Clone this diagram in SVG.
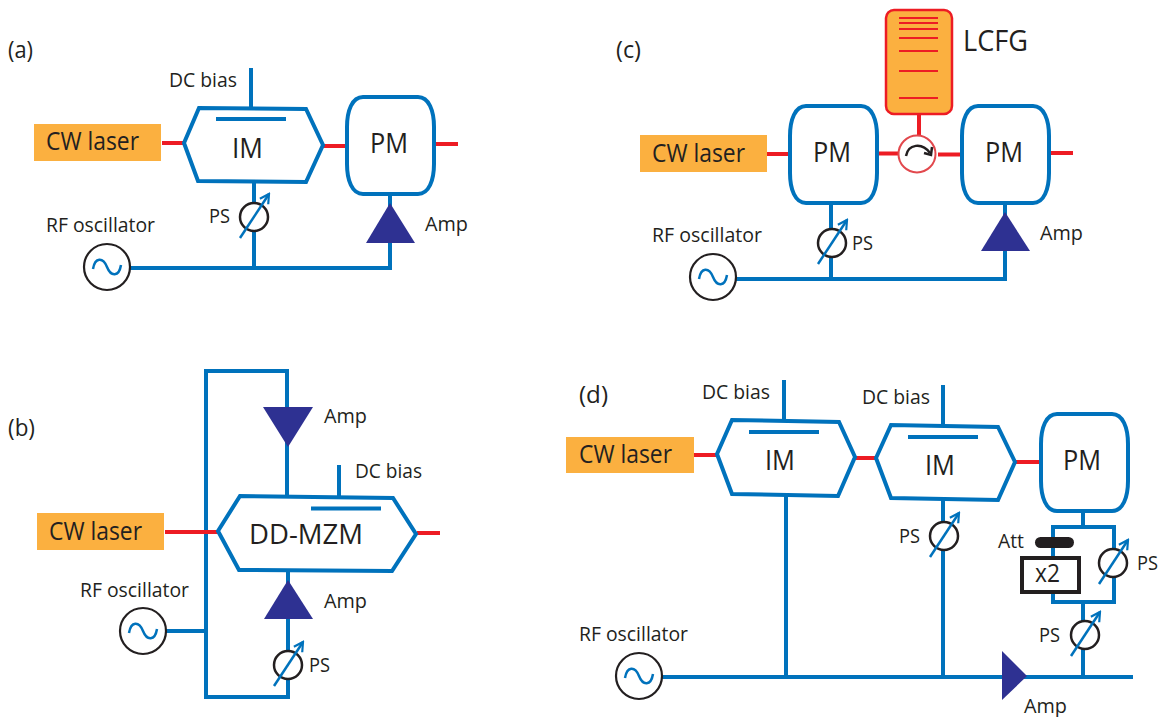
<svg xmlns="http://www.w3.org/2000/svg" xmlns:xlink="http://www.w3.org/1999/xlink" width="1159" height="717" viewBox="0 0 1159 717">
<style>
text{font-family:"Open Sans","Noto Sans","Liberation Sans",sans-serif;fill:#231f20}
.s{font-size:19.500px}.m{font-size:25.500px}.l{font-size:28px}.p{font-size:24px}
.b{fill:none;stroke:#0072bc;stroke-width:4}
.r{fill:none;stroke:#ed1c24;stroke-width:4}
.box{fill:#fff;stroke:#0072bc;stroke-width:4;stroke-linejoin:miter}
.laser{fill:#fbb040}
.amp{fill:#2e3192}
.e{fill:none;stroke:#0072bc;stroke-width:4}
.pa{fill:none;stroke:#0072bc;stroke-width:2.5;marker-end:url(#ah)}
.c{fill:#fff;stroke:#231f20;stroke-width:2.5}
.o{fill:#fff;stroke:#231f20;stroke-width:2.2}
.w{fill:none;stroke:#0072bc;stroke-width:2.5}
.g{fill:none;stroke:#ed1c24;stroke-width:2}
</style>
<defs>
<marker id="ah" markerUnits="userSpaceOnUse" markerWidth="14" markerHeight="14" refX="12" refY="7" orient="auto"><path d="M3,2 L12,7 L3,12" fill="none" stroke="#0072bc" stroke-width="2.2"/></marker>
<g id="osc"><circle r="23" class="o"/><path class="w" d="M-14,2 C-12,-10 -4,-10 0,0 C4,10 12,10 14,-2"/></g>
<g id="ps"><circle r="14" class="c"/><path class="pa" d="M-14,21 L15,-23"/></g>
<path id="pm" class="box" d="M16,0 H71 C82,0 87,14 87,30 V67 C87,83 82,97 71,97 H16 C5,97 0,83 0,67 V30 C0,14 5,0 16,0 Z"/>
</defs>

<g id="connectors">
<path class="r" d="M162,143H184M323,146H346M435,144H458"/>
<path class="b" d="M251,68V108M254,182V268M390,194V268M130,268H392"/>
<path class="r" d="M767,154H790M876,153.500H898M938,154.500H961M1049,153H1073"/>
<path class="r" d="M919,114V135"/>
<path class="b" d="M831,202V280M1005,202V279M736,279H1007"/>
<path class="b" d="M287,497V371H206V697H288V572M339,465V497M166,631H206"/>
<path class="r" d="M165,532H218M417,533H440"/>
<path class="r" d="M694,455H716M855,458H876M1015,462H1039"/>
<path class="b" d="M784,380V420M943,385V425M786,496V677M943,500V677M1083,510V527M1083,602V677M662,677H1133"/>
<path class="b" d="M1053,527H1114V602H1053Z"/>
</g>

<g id="label-a"><text class="p" x="8" y="58" textLength="25" lengthAdjust="spacingAndGlyphs">(a)</text></g>
<g id="label-b"><text class="p" x="8" y="436" textLength="27" lengthAdjust="spacingAndGlyphs">(b)</text></g>
<g id="label-c"><text class="p" x="616" y="58" textLength="25" lengthAdjust="spacingAndGlyphs">(c)</text></g>
<g id="label-d"><text class="p" x="579" y="403" textLength="29" lengthAdjust="spacingAndGlyphs">(d)</text></g>

<g id="a-laser"><rect class="laser" x="34" y="124" width="127" height="37"/><text class="m" x="46" y="150" textLength="93" lengthAdjust="spacingAndGlyphs">CW laser</text></g>
<g id="a-im"><path class="box" d="M184,143L199,108L306,109L323,145L306,182L198,181Z"/><path class="e" d="M216,119H286"/><text class="l" x="232" y="158" textLength="31" lengthAdjust="spacingAndGlyphs">IM</text></g>
<g id="a-dc"><text class="s" x="169" y="87" textLength="68" lengthAdjust="spacingAndGlyphs">DC bias</text></g>
<g id="a-pm"><use href="#pm" x="347" y="97"/><text class="l" x="370" y="153" textLength="38" lengthAdjust="spacingAndGlyphs">PM</text></g>
<g id="a-ps"><use href="#ps" x="254" y="217"/><text class="s" x="209" y="223" textLength="21" lengthAdjust="spacingAndGlyphs">PS</text></g>
<g id="a-amp"><path class="amp" d="M390,203L415,243H366Z"/><text class="s" x="425" y="231" textLength="43" lengthAdjust="spacingAndGlyphs">Amp</text></g>
<g id="a-osc"><use href="#osc" x="107" y="267"/><text class="s" x="46" y="232" textLength="109" lengthAdjust="spacingAndGlyphs">RF oscillator</text></g>

<g id="c-laser"><rect class="laser" x="640" y="135" width="127" height="37"/><text class="m" x="652" y="162" textLength="93" lengthAdjust="spacingAndGlyphs">CW laser</text></g>
<g id="c-pm1"><use href="#pm" x="790" y="106"/><text class="l" x="813" y="162" textLength="38" lengthAdjust="spacingAndGlyphs">PM</text></g>
<g id="c-pm2"><use href="#pm" x="962" y="106"/><text class="l" x="985" y="162" textLength="38" lengthAdjust="spacingAndGlyphs">PM</text></g>
<g id="c-circ"><circle cx="917" cy="154" r="18.500" fill="#fff" stroke="#e2484d" stroke-width="2"/><path d="M906,156C908,144 922,142 930,153" fill="none" stroke="#231f20" stroke-width="2.500"/><path d="M924,153L931,155L932,147" fill="none" stroke="#231f20" stroke-width="2.500"/></g>
<g id="c-lcfg"><rect x="886" y="10" width="66" height="104" rx="8" fill="#fbb040" stroke="#ed1c24" stroke-width="2.500"/><path class="g" d="M899,18H938M899,23H938M899,29H938M899,38H938M899,51H938M899,71H938M899,98H938"/><text x="963" y="51" style="font-size:29px" textLength="65" lengthAdjust="spacingAndGlyphs">LCFG</text></g>
<g id="c-ps"><use href="#ps" x="832" y="243"/><text class="s" x="852" y="250" textLength="21" lengthAdjust="spacingAndGlyphs">PS</text></g>
<g id="c-amp"><path class="amp" d="M1005,212L1030,251H981Z"/><text class="s" x="1040" y="240" textLength="43" lengthAdjust="spacingAndGlyphs">Amp</text></g>
<g id="c-osc"><use href="#osc" x="713" y="277"/><text class="s" x="652" y="242" textLength="110" lengthAdjust="spacingAndGlyphs">RF oscillator</text></g>

<g id="b-laser"><rect class="laser" x="37" y="513" width="127" height="37"/><text class="m" x="49" y="540" textLength="93" lengthAdjust="spacingAndGlyphs">CW laser</text></g>
<g id="b-mzm"><path class="box" d="M218,531L240,496L393,498L416,534L392,571L239,570Z"/><path class="e" d="M311,508.500H381"/><text class="l" x="249" y="544" textLength="114" lengthAdjust="spacingAndGlyphs">DD-MZM</text></g>
<g id="b-dc"><text class="s" x="355" y="478" textLength="67" lengthAdjust="spacingAndGlyphs">DC bias</text></g>
<g id="b-amp1"><path class="amp" d="M263,407H313L288,447Z"/><text class="s" x="324" y="423" textLength="43" lengthAdjust="spacingAndGlyphs">Amp</text></g>
<g id="b-amp2"><path class="amp" d="M288,580L313,619H264Z"/><text class="s" x="324" y="608" textLength="43" lengthAdjust="spacingAndGlyphs">Amp</text></g>
<g id="b-ps"><use href="#ps" x="288" y="665"/><text class="s" x="309" y="672" textLength="21" lengthAdjust="spacingAndGlyphs">PS</text></g>
<g id="b-osc"><use href="#osc" x="143" y="631"/><text class="s" x="80" y="597" textLength="109" lengthAdjust="spacingAndGlyphs">RF oscillator</text></g>

<g id="d-laser"><rect class="laser" x="566" y="437" width="128" height="36"/><text class="m" x="579" y="463" textLength="93" lengthAdjust="spacingAndGlyphs">CW laser</text></g>
<g id="d-im1"><path class="box" d="M717,454L732,420L839,422L855,457L838,496L732,494Z"/><path class="e" d="M749,432H819"/><text class="l" x="765" y="470" textLength="30" lengthAdjust="spacingAndGlyphs">IM</text></g>
<g id="d-dc1"><text class="s" x="702" y="399" textLength="68" lengthAdjust="spacingAndGlyphs">DC bias</text></g>
<g id="d-im2"><path class="box" d="M876,458L891,425L998,427L1015,462L998,500L891,498Z"/><path class="e" d="M908,437H978"/><text class="l" x="925" y="475" textLength="30" lengthAdjust="spacingAndGlyphs">IM</text></g>
<g id="d-dc2"><text class="s" x="862" y="404" textLength="68" lengthAdjust="spacingAndGlyphs">DC bias</text></g>
<g id="d-pm"><use href="#pm" x="1041" y="414"/><text class="l" x="1063" y="470" textLength="38" lengthAdjust="spacingAndGlyphs">PM</text></g>
<g id="d-att"><rect x="1035" y="537" width="39" height="11" rx="5.500" fill="#231f20"/><text class="s" x="998" y="548" textLength="26" lengthAdjust="spacingAndGlyphs">Att</text></g>
<g id="d-x2"><rect x="1022" y="558" width="57" height="34" fill="#fff" stroke="#231f20" stroke-width="4"/><text class="m" x="1035" y="582" textLength="25" lengthAdjust="spacingAndGlyphs">x2</text></g>
<g id="d-ps1"><use href="#ps" x="944" y="536"/><text class="s" x="899" y="543" textLength="21" lengthAdjust="spacingAndGlyphs">PS</text></g>
<g id="d-ps2"><use href="#ps" x="1113" y="563"/><text class="s" x="1137" y="570" textLength="21" lengthAdjust="spacingAndGlyphs">PS</text></g>
<g id="d-ps3"><use href="#ps" x="1085" y="635"/><text class="s" x="1039" y="642" textLength="21" lengthAdjust="spacingAndGlyphs">PS</text></g>
<g id="d-amp"><path class="amp" d="M1002,651L1027,676L1002,700Z"/><text class="s" x="1024" y="713" textLength="43" lengthAdjust="spacingAndGlyphs">Amp</text></g>
<g id="d-osc"><use href="#osc" x="639" y="676"/><text class="s" x="579" y="641" textLength="109" lengthAdjust="spacingAndGlyphs">RF oscillator</text></g>
</svg>
